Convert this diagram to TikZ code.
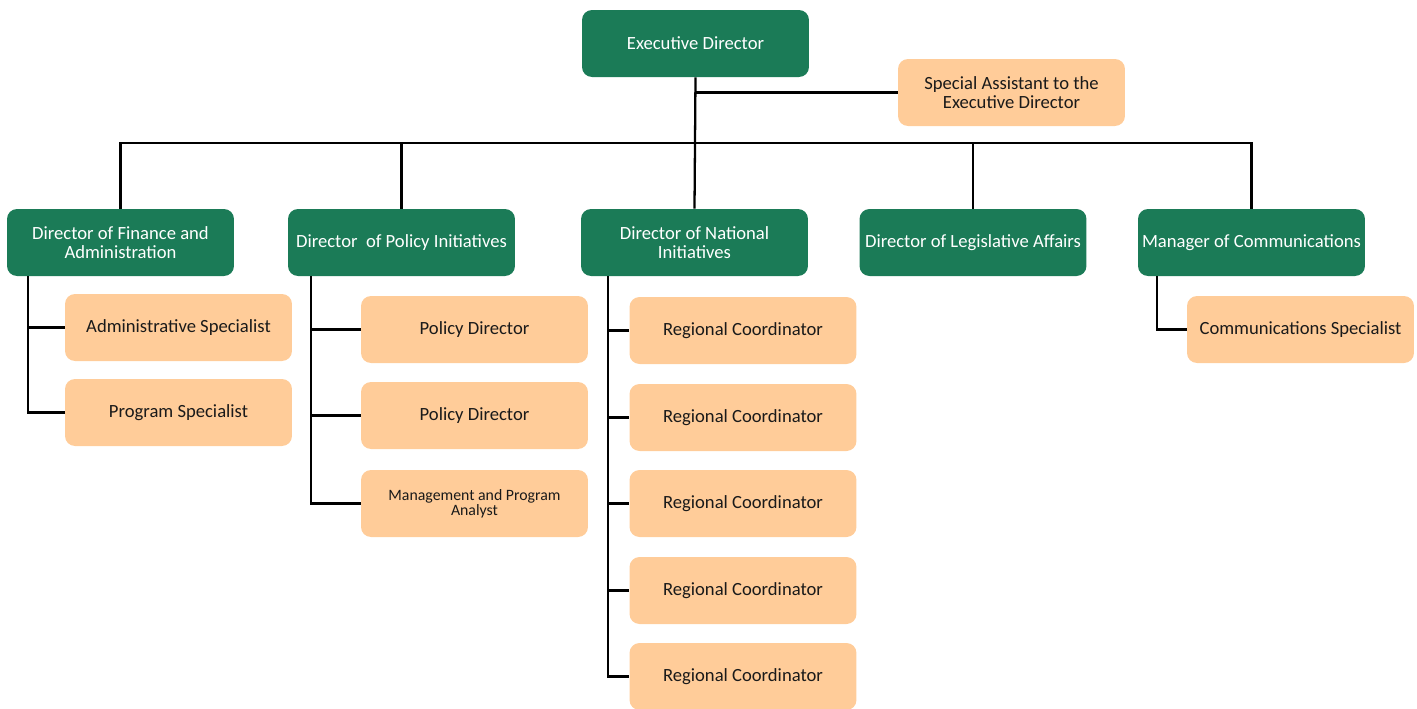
\documentclass[tikz,border=0pt]{standalone}
\usepackage{fontspec}
\setmainfont{Carlito}
\usetikzlibrary{positioning}
\definecolor{leadgreen}{HTML}{1B7B57}
\definecolor{peach}{HTML}{FFCC99}
\definecolor{ink}{HTML}{1A1A1A}

\tikzset{
  unitbox/.style={rounded corners=0.2cm,minimum width=4.54cm,minimum height=1.34cm,
    align=center,inner sep=2pt,font=\fontsize{10.6}{11}\selectfont},
  lead/.style={unitbox,fill=leadgreen,text=white},
  staff/.style={unitbox,fill=peach,text=ink},
  link/.style={draw=black,line width=1.3pt}
}

\begin{document}
\begin{tikzpicture}[x=0.02cm,y=-0.02cm]
        \useasboundingbox (0,0) rectangle (1417,708);
        % top level
        \node[lead] (exec) at (695.5,43.5) {Executive Director};
        \node[staff] (assist) at (1011.5,92.5) {Special Assistant to the\\Executive Director};
        % directors
        \node[lead] (finance) at (120.5,242.5) {Director of Finance and\\Administration};
        \node[lead] (policy) at (401.5,242.5) {Director \ of Policy Initiatives};
        \node[lead] (national) at (694.5,242.5) {Director of National\\Initiatives};
        \node[lead] (legis) at (973,242.5) {Director of Legislative Affairs};
        \node[lead] (comms) at (1251.5,242.5) {Manager of Communications};
        % staff under directors
        \node[staff] (admin) at (178.5,327.5) {Administrative Specialist};
        \node[staff] (prog) at (178.5,412.5) {Program Specialist};
        \node[staff] (poldirA) at (474.5,329.5) {Policy Director};
        \node[staff] (poldirB) at (474.5,415.5) {Policy Director};
        \node[staff,font=\fontsize{9}{8.5}\selectfont] (analyst) at (474.5,503.5) {Management and Program\\Analyst};
        \foreach \i/\y in {1/330.5,2/417.5,3/503.5,4/590.5,5/676.5}
          \node[staff] (region\i) at (743,\y) {Regional Coordinator};
        \node[staff] (commspec) at (1300.5,329.5) {Communications Specialist};

        % connectors
        \coordinate (bus) at (695,143);
        \draw[link] (exec.south) -- (national.north);
        \draw[link] (exec.south |- assist.west) -- (assist.west);
        \draw[link] (finance.north) |- (bus) -| (comms.north);
        \foreach \n in {policy,legis}
          \draw[link] (\n.north) -- (\n.north |- bus);
        \foreach \c in {admin,prog}
          \draw[link] ([xshift=0.42cm]finance.south west) |- (\c.west);
        \foreach \c in {poldirA,poldirB,analyst}
          \draw[link] ([xshift=0.46cm]policy.south west) |- (\c.west);
        \foreach \i in {1,...,5}
          \draw[link] ([xshift=0.54cm]national.south west) |- (region\i.west);
        \draw[link] ([xshift=0.38cm]comms.south west) |- (commspec.west);
\end{tikzpicture}
\end{document}
